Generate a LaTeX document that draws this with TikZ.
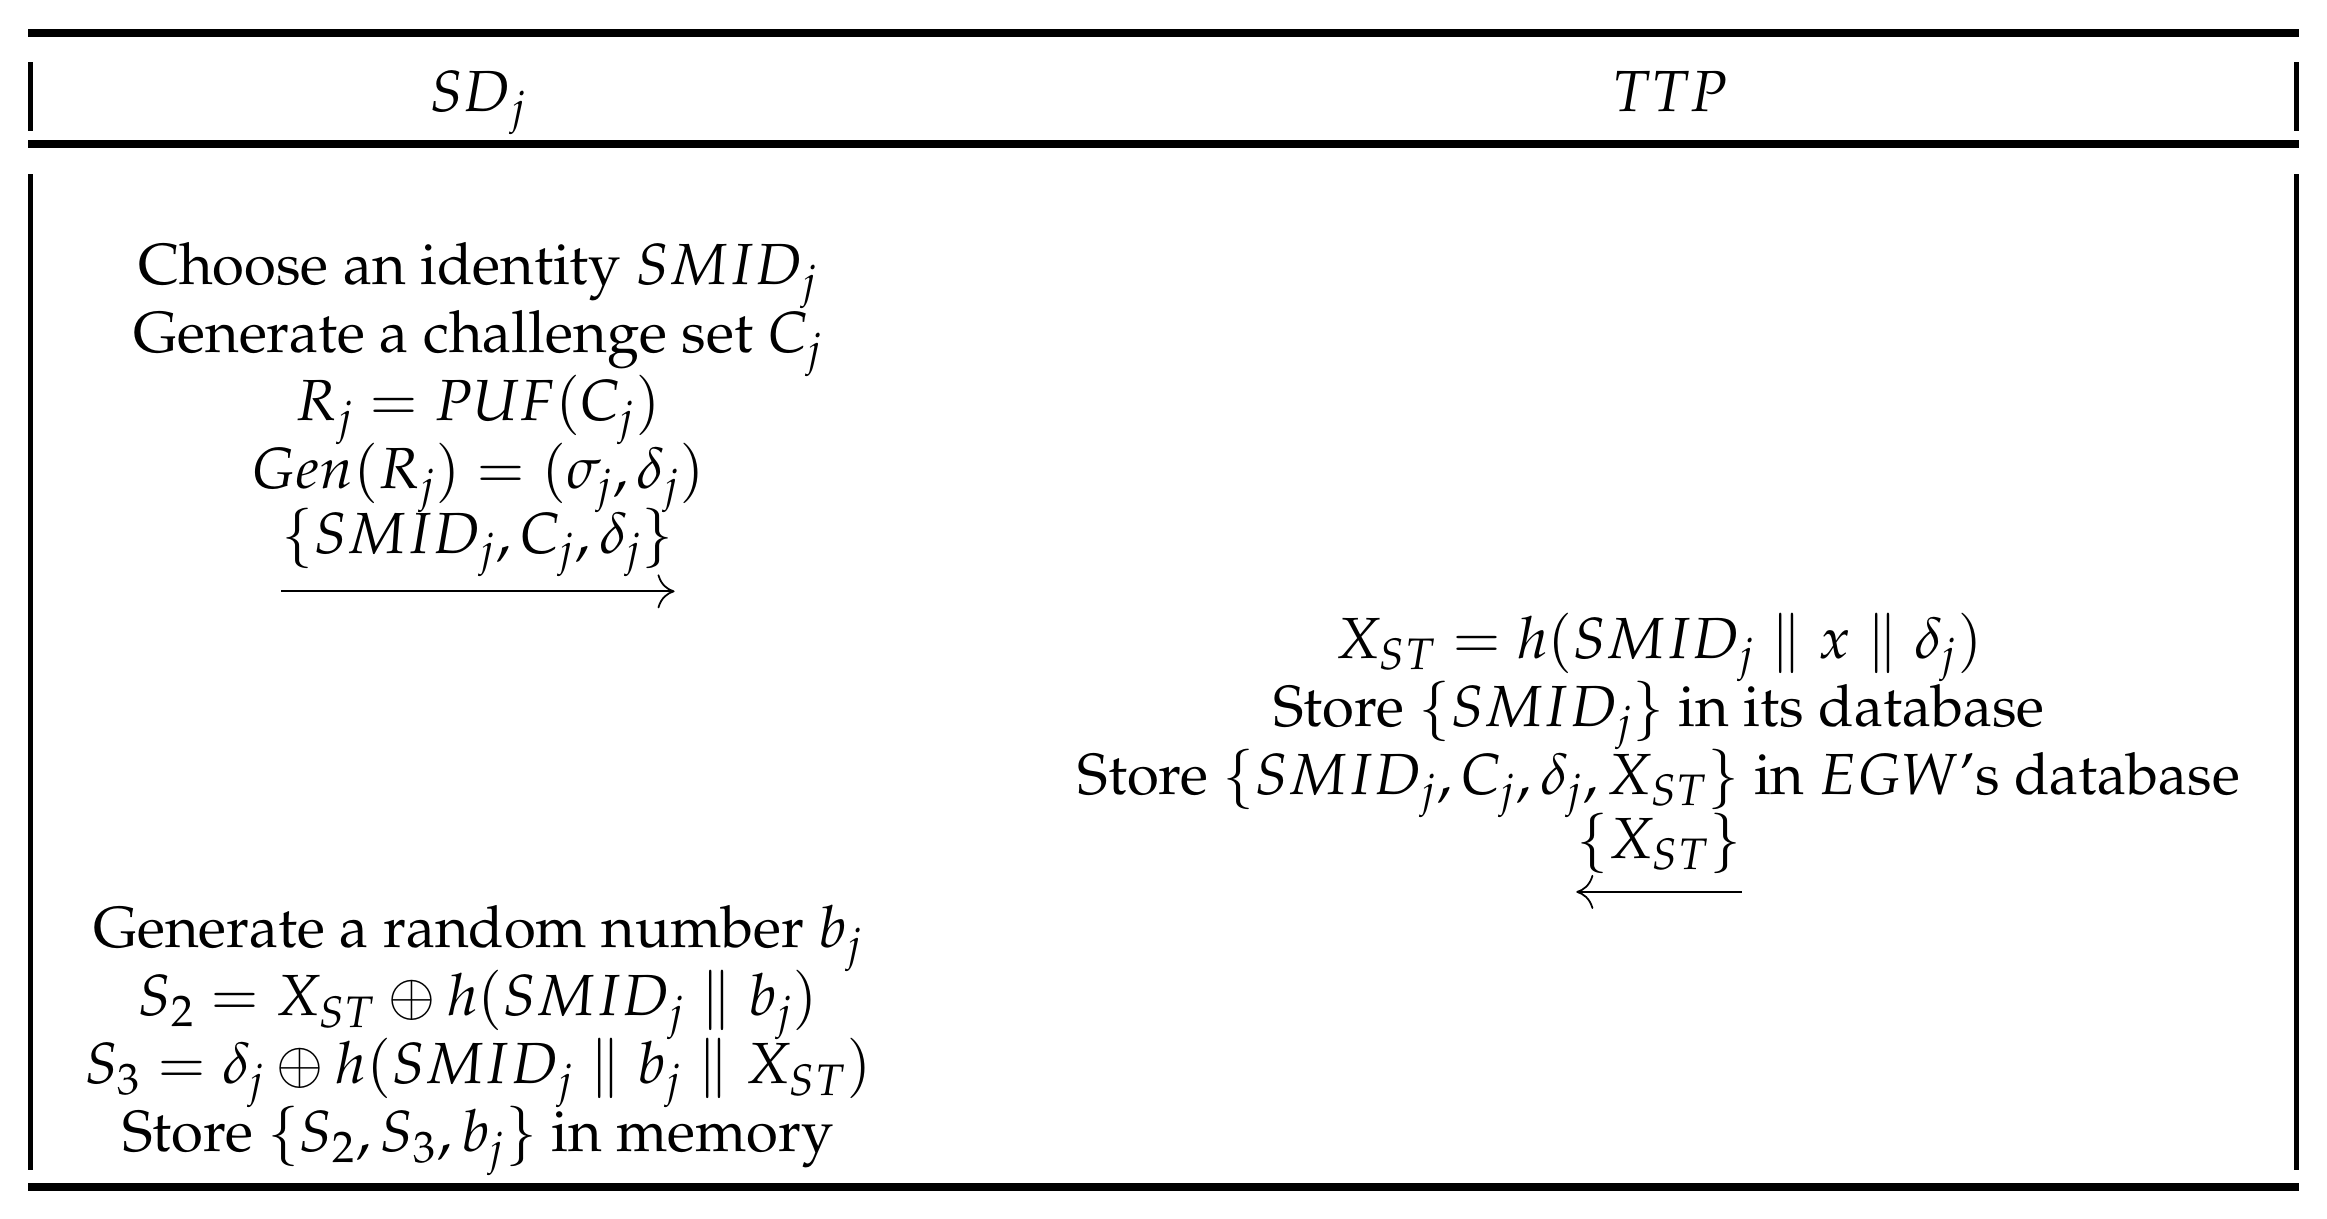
\documentclass[tikz,border=0pt]{standalone}
\usepackage[T1]{fontenc}
\usepackage{mathpazo}
\usepackage{amsmath}
\usepackage{amssymb}
\usetikzlibrary{arrows.meta, positioning}

\newcommand{\fixedlines}{\lineskiplimit=-20pt\relax}

\begin{document}
\begin{tikzpicture}[
    font=\fontsize{16.5}{19.35}\selectfont\fixedlines,
    node distance=0.25cm,
    cellblk/.style={align=center, inner sep=0pt, anchor=north},
    headlbl/.style={inner sep=0pt, anchor=base},
    msglbl/.style={inner sep=0pt},
    msgarrow/.style={-{To[length=1.7mm, width=3.4mm]}, line width=0.5pt},
    tabrule/.style={line width=0.08cm},
    sidebar/.style={line width=0.05cm}
]
\useasboundingbox (0,0) rectangle (23.27,-12.18);

% === TABLE FRAME ===
\draw[tabrule] (0.28,-0.33) -- (22.99,-0.33);
\draw[tabrule] (0.28,-1.44) -- (22.99,-1.44);
\draw[tabrule] (0.28,-11.87) -- (22.99,-11.87);
\draw[sidebar] (0.305,-0.62) -- (0.305,-1.31);
\draw[sidebar] (22.965,-0.62) -- (22.965,-1.31);
\draw[sidebar] (0.305,-1.74) -- (0.305,-11.70);
\draw[sidebar] (22.965,-1.74) -- (22.965,-11.70);

% === HEADER ===
\node[headlbl] (sdhead) at (4.78,-1.11) {$SD_j$};
\node[headlbl] (ttphead) at (16.70,-1.11) {$TTP$};

% === SD_j: REGISTRATION REQUEST ===
\node[cellblk] (sdreq) at (4.78,-2.42) {Choose an identity $SMID_j$\\
Generate a challenge set $C_j$\\
$R_j = PUF(C_j)$\\
$Gen(R_j) = (\sigma_j, \delta_j)$};
\node[msglbl, below=-0.06cm of sdreq] (msgreq) {$\{SMID_j, C_j, \delta_j\}$};

% === TTP: STORE AND REPLY ===
\node[cellblk] (ttpstore) at (16.59,-6.12) {$X_{ST} = h(SMID_j \parallel x \parallel \delta_j)$\\
Store $\{SMID_j\}$ in its database\\
Store $\{SMID_j, C_j, \delta_j, X_{ST}\}$ in $EGW$'s database};
\node[msglbl, below=-0.06cm of ttpstore] (msgrep) {$\{X_{ST}\}$};

% === SD_j: KEEP IN MEMORY ===
\node[cellblk] (sdmem) at (4.78,-9.05) {Generate a random number $b_j$\\
$S_2 = X_{ST} \oplus h(SMID_j \parallel b_j)$\\
$S_3 = \delta_j \oplus h(SMID_j \parallel b_j \parallel X_{ST})$\\
Store $\{S_2, S_3, b_j\}$ in memory};

% === MESSAGES ===
\draw[msgarrow] ([yshift=-0.14cm]msgreq.south west) -- ([yshift=-0.14cm]msgreq.south east);
\draw[msgarrow] ([yshift=-0.18cm]msgrep.south east) -- ([yshift=-0.18cm]msgrep.south west);

\end{tikzpicture}
\end{document}
